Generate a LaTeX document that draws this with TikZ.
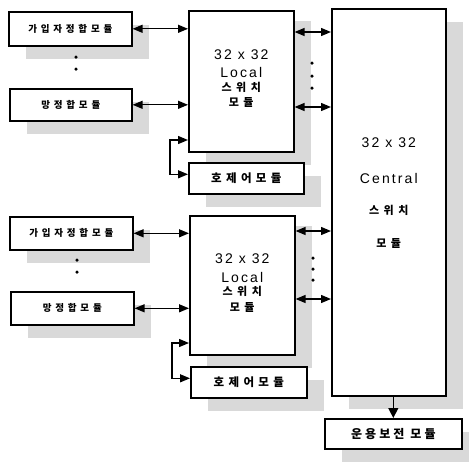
\documentclass[tikz,border=0pt]{standalone}
\usepackage{fontspec}
\setmainfont{Liberation Sans}
\newfontfamily\kr{Noto Sans CJK KR}
\usetikzlibrary{arrows.meta,calc,shadows}
\begin{document}
\begin{tikzpicture}[x=1pt,y=-1pt,
  box/.style={draw, line width=1.6pt, fill=white, inner sep=0pt, anchor=north west,
    drop shadow={shadow xshift=17pt, shadow yshift=-13pt, fill=black!15, opacity=1}},
  smalltxt/.style={font=\kr\bfseries\fontsize{9.5}{11}\selectfont\addfontfeature{LetterSpace=40}},
  ctltxt/.style={font=\kr\bfseries\fontsize{11.5}{13}\selectfont\addfontfeature{LetterSpace=38}},
  bigkr/.style={font=\kr\bfseries\fontsize{11}{13}\selectfont\addfontfeature{LetterSpace=40}, inner sep=0pt},
  biglat/.style={font=\fontsize{14}{16}\selectfont\addfontfeature{LetterSpace=15}, inner sep=0pt},
  conn/.style={line width=1.3pt, {Triangle[length=10pt,width=8pt]}-{Triangle[length=10pt,width=8pt]}},
  oneway/.style={line width=1.3pt, -{Triangle[length=10pt,width=10pt]}},
  dot/.style={circle, fill=black, inner sep=0pt, minimum size=3.5pt}]
\useasboundingbox (0,0) rectangle (469,464);

% ---------- group 1 ----------
\node[box, minimum width=123pt, minimum height=34pt, smalltxt] (s1) at (8,11) {가입자정합모듈};
\node[box, minimum width=122pt, minimum height=32pt, smalltxt] (m1) at (9,88) {망정합모듈};
\node[box, minimum width=105pt, minimum height=141pt,
  drop shadow={shadow xshift=17pt, shadow yshift=-10pt, fill=black!15, opacity=1}] (loc1) at (188,10) {};
\node[box, minimum width=115pt, minimum height=31pt, ctltxt] (ctl1) at (188,162) {호제어모듈};

% ---------- group 2 ----------
\node[box, minimum width=123pt, minimum height=33pt, smalltxt] (s2) at (9,216) {가입자정합모듈};
\node[box, minimum width=123pt, minimum height=33pt, smalltxt] (m2) at (10,291) {망정합모듈};
\node[box, minimum width=105pt, minimum height=139pt,
  drop shadow={shadow xshift=17pt, shadow yshift=-10pt, fill=black!15, opacity=1}] (loc2) at (189,215) {};
\node[box, minimum width=116pt, minimum height=31pt, ctltxt] (ctl2) at (190,366) {호제어모듈};

% ---------- central + ops ----------
\node[box, minimum width=114pt, minimum height=387pt] (cen) at (331,8) {};
\node[box, minimum width=137pt, minimum height=30pt, font=\kr\bfseries\fontsize{12}{14}\selectfont\addfontfeature{LetterSpace=26}] (ops) at (324,418) {운용보전 모듈};

% ---------- texts in switches ----------
\node[biglat] (l1a) at ($(loc1.north)+(0,45)$) {32 x 32};
\node[biglat] (l1b) at ($(loc1.north)+(0,62)$) {Local};
\node[bigkr] (l1c) at ($(loc1.north)+(0,77)$) {스위치};
\node[bigkr] (l1d) at ($(loc1.north)+(0,92)$) {모듈};
\node[biglat] (l2a) at ($(loc2.north)+(0,44)$) {32 x 32};
\node[biglat] (l2b) at ($(loc2.north)+(0,62)$) {Local};
\node[bigkr] (l2c) at ($(loc2.north)+(0,76)$) {스위치};
\node[bigkr] (l2d) at ($(loc2.north)+(0,92)$) {모듈};
\node[biglat] (c1) at ($(cen.north)+(0,135)$) {32 x 32};
\node[biglat] (c2) at ($(cen.north)+(0,170)$) {Central};
\node[bigkr] (c3) at ($(cen.north)+(0,202)$) {스위치};
\node[bigkr] (c4) at ($(cen.north)+(0,235)$) {모듈};

% ---------- connectors group 1 ----------
\draw[conn] (s1.east) -- (s1.east -| loc1.west);
\draw[conn] (m1.east) -- (m1.east -| loc1.west);
\coordinate (a1) at ($(loc1.north east)+(0,22)$);
\coordinate (b1) at ($(loc1.north east)+(0,97)$);
\draw[conn] (a1) -- (a1 -| cen.west);
\draw[conn] (b1) -- (b1 -| cen.west);
\coordinate (k1) at (170,140);
\draw[conn] (k1 -| loc1.west) -- (k1) |- ($(ctl1.west)+(0,-4)$);

% ---------- connectors group 2 ----------
\draw[conn] (s2.east) -- (s2.east -| loc2.west);
\draw[conn] (m2.east) -- (m2.east -| loc2.west);
\coordinate (a2) at ($(loc2.north east)+(0,16)$);
\coordinate (b2) at ($(loc2.north east)+(0,84)$);
\draw[conn] (a2) -- (a2 -| cen.west);
\draw[conn] (b2) -- (b2 -| cen.west);
\coordinate (k2) at (172,343);
\draw[conn] (k2 -| loc2.west) -- (k2) |- ($(ctl2.west)+(0,-4)$);

% ---------- central to ops ----------
\draw[oneway] (cen.south -| ops.north) -- (ops.north);

% ---------- dots ----------
\node[dot] (d1) at (76,57) {};
\node[dot] (d2) at (76,69) {};
\node[dot] (d3) at (77,260) {};
\node[dot] (d4) at (77,272) {};
\node[dot] (e1) at (312,63) {};
\node[dot] (e2) at (312,76) {};
\node[dot] (e3) at (312,88) {};
\node[dot] (e4) at (313,258) {};
\node[dot] (e5) at (313,269) {};
\node[dot] (e6) at (313,280) {};
\end{tikzpicture}
\end{document}
